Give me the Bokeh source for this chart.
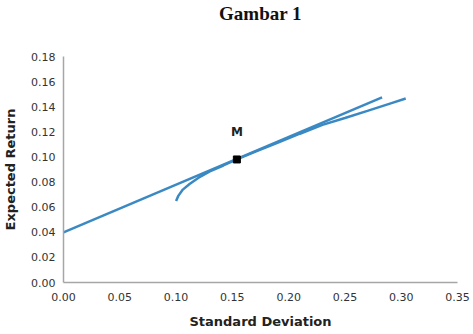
from bokeh.plotting import figure
from bokeh.models import Range1d, FixedTicker, Label, Title
from bokeh.embed import file_html
from bokeh.resources import INLINE

# Capital Market Line
cml_sd = [0.0, 0.283]
cml_ret = [0.040, 0.1475]

# Efficient frontier
ef_sd = [0.100, 0.102, 0.106, 0.112, 0.120, 0.130, 0.142, 0.154, 0.170, 0.190,
         0.210, 0.230, 0.250, 0.270, 0.290, 0.304]
ef_ret = [0.065, 0.069, 0.074, 0.0785, 0.0835, 0.0885, 0.0932, 0.098, 0.104, 0.1112,
          0.1185, 0.1255, 0.131, 0.1367, 0.1425, 0.1465]

# Market portfolio
m_sd = [0.154]
m_ret = [0.098]

x_ticks = [0.00, 0.05, 0.10, 0.15, 0.20, 0.25, 0.30, 0.35]
y_ticks = [0.00, 0.02, 0.04, 0.06, 0.08, 0.10, 0.12, 0.14, 0.16, 0.18]

title_text = "Gambar 1"
blue = "#3b89c3"

p = figure(width=473, height=334, output_backend="svg", toolbar_location=None,
           x_range=Range1d(0, 0.35), y_range=Range1d(0, 0.18),
           min_border_left=63, min_border_right=16, min_border_top=0, min_border_bottom=52)
p.outline_line_color = None
p.xgrid.visible = False
p.ygrid.visible = False

spacer = Title(text=" ", align="center", text_font="Liberation Serif", text_font_size="19px")
p.add_layout(spacer, "above")
t = Title(text=title_text, align="center", text_font="Liberation Serif", standoff=0,
          text_font_size="19px", text_font_style="bold", text_color="#111111")
p.add_layout(t, "above")

p.line(ef_sd, ef_ret, line_color=blue, line_width=2.5)
p.line(cml_sd, cml_ret, line_color=blue, line_width=2.5)
p.scatter(m_sd, m_ret, marker="square", size=7, fill_color="black", line_color="black")

lab = Label(x=m_sd[0], y=0.12, text="M", text_align="center", text_baseline="middle",
            text_font="DejaVu Sans", text_font_size="12px", text_font_style="bold",
            text_color="#222222")
p.add_layout(lab)

for ax in (p.xaxis[0], p.yaxis[0]):
    ax.axis_line_color = "#a6a6a6"
    ax.axis_line_width = 1.5
    ax.major_tick_line_color = None
    ax.minor_tick_line_color = None
    ax.major_tick_out = 0
    ax.major_tick_in = 0
    ax.major_label_text_font = "DejaVu Sans"
    ax.major_label_text_font_size = "11px"
    ax.major_label_text_color = "#333333"
    ax.axis_label_text_font = "DejaVu Sans"
    ax.axis_label_text_font_size = "13px"
    ax.axis_label_text_font_style = "bold"
    ax.axis_label_text_color = "#222222"

p.xaxis.ticker = FixedTicker(ticks=x_ticks)
p.yaxis.ticker = FixedTicker(ticks=y_ticks)
p.xaxis.major_label_overrides = {v: f"{v:.2f}" for v in x_ticks}
p.yaxis.major_label_overrides = {v: f"{v:.2f}" for v in y_ticks}
p.xaxis.axis_label = "Standard Deviation"
p.yaxis.axis_label = "Expected Return"
p.xaxis.major_label_standoff = 10
p.yaxis.major_label_standoff = 8
p.xaxis.axis_label_standoff = 10
p.yaxis.axis_label_standoff = 10

open("out.html", "w").write(file_html(p, INLINE))
